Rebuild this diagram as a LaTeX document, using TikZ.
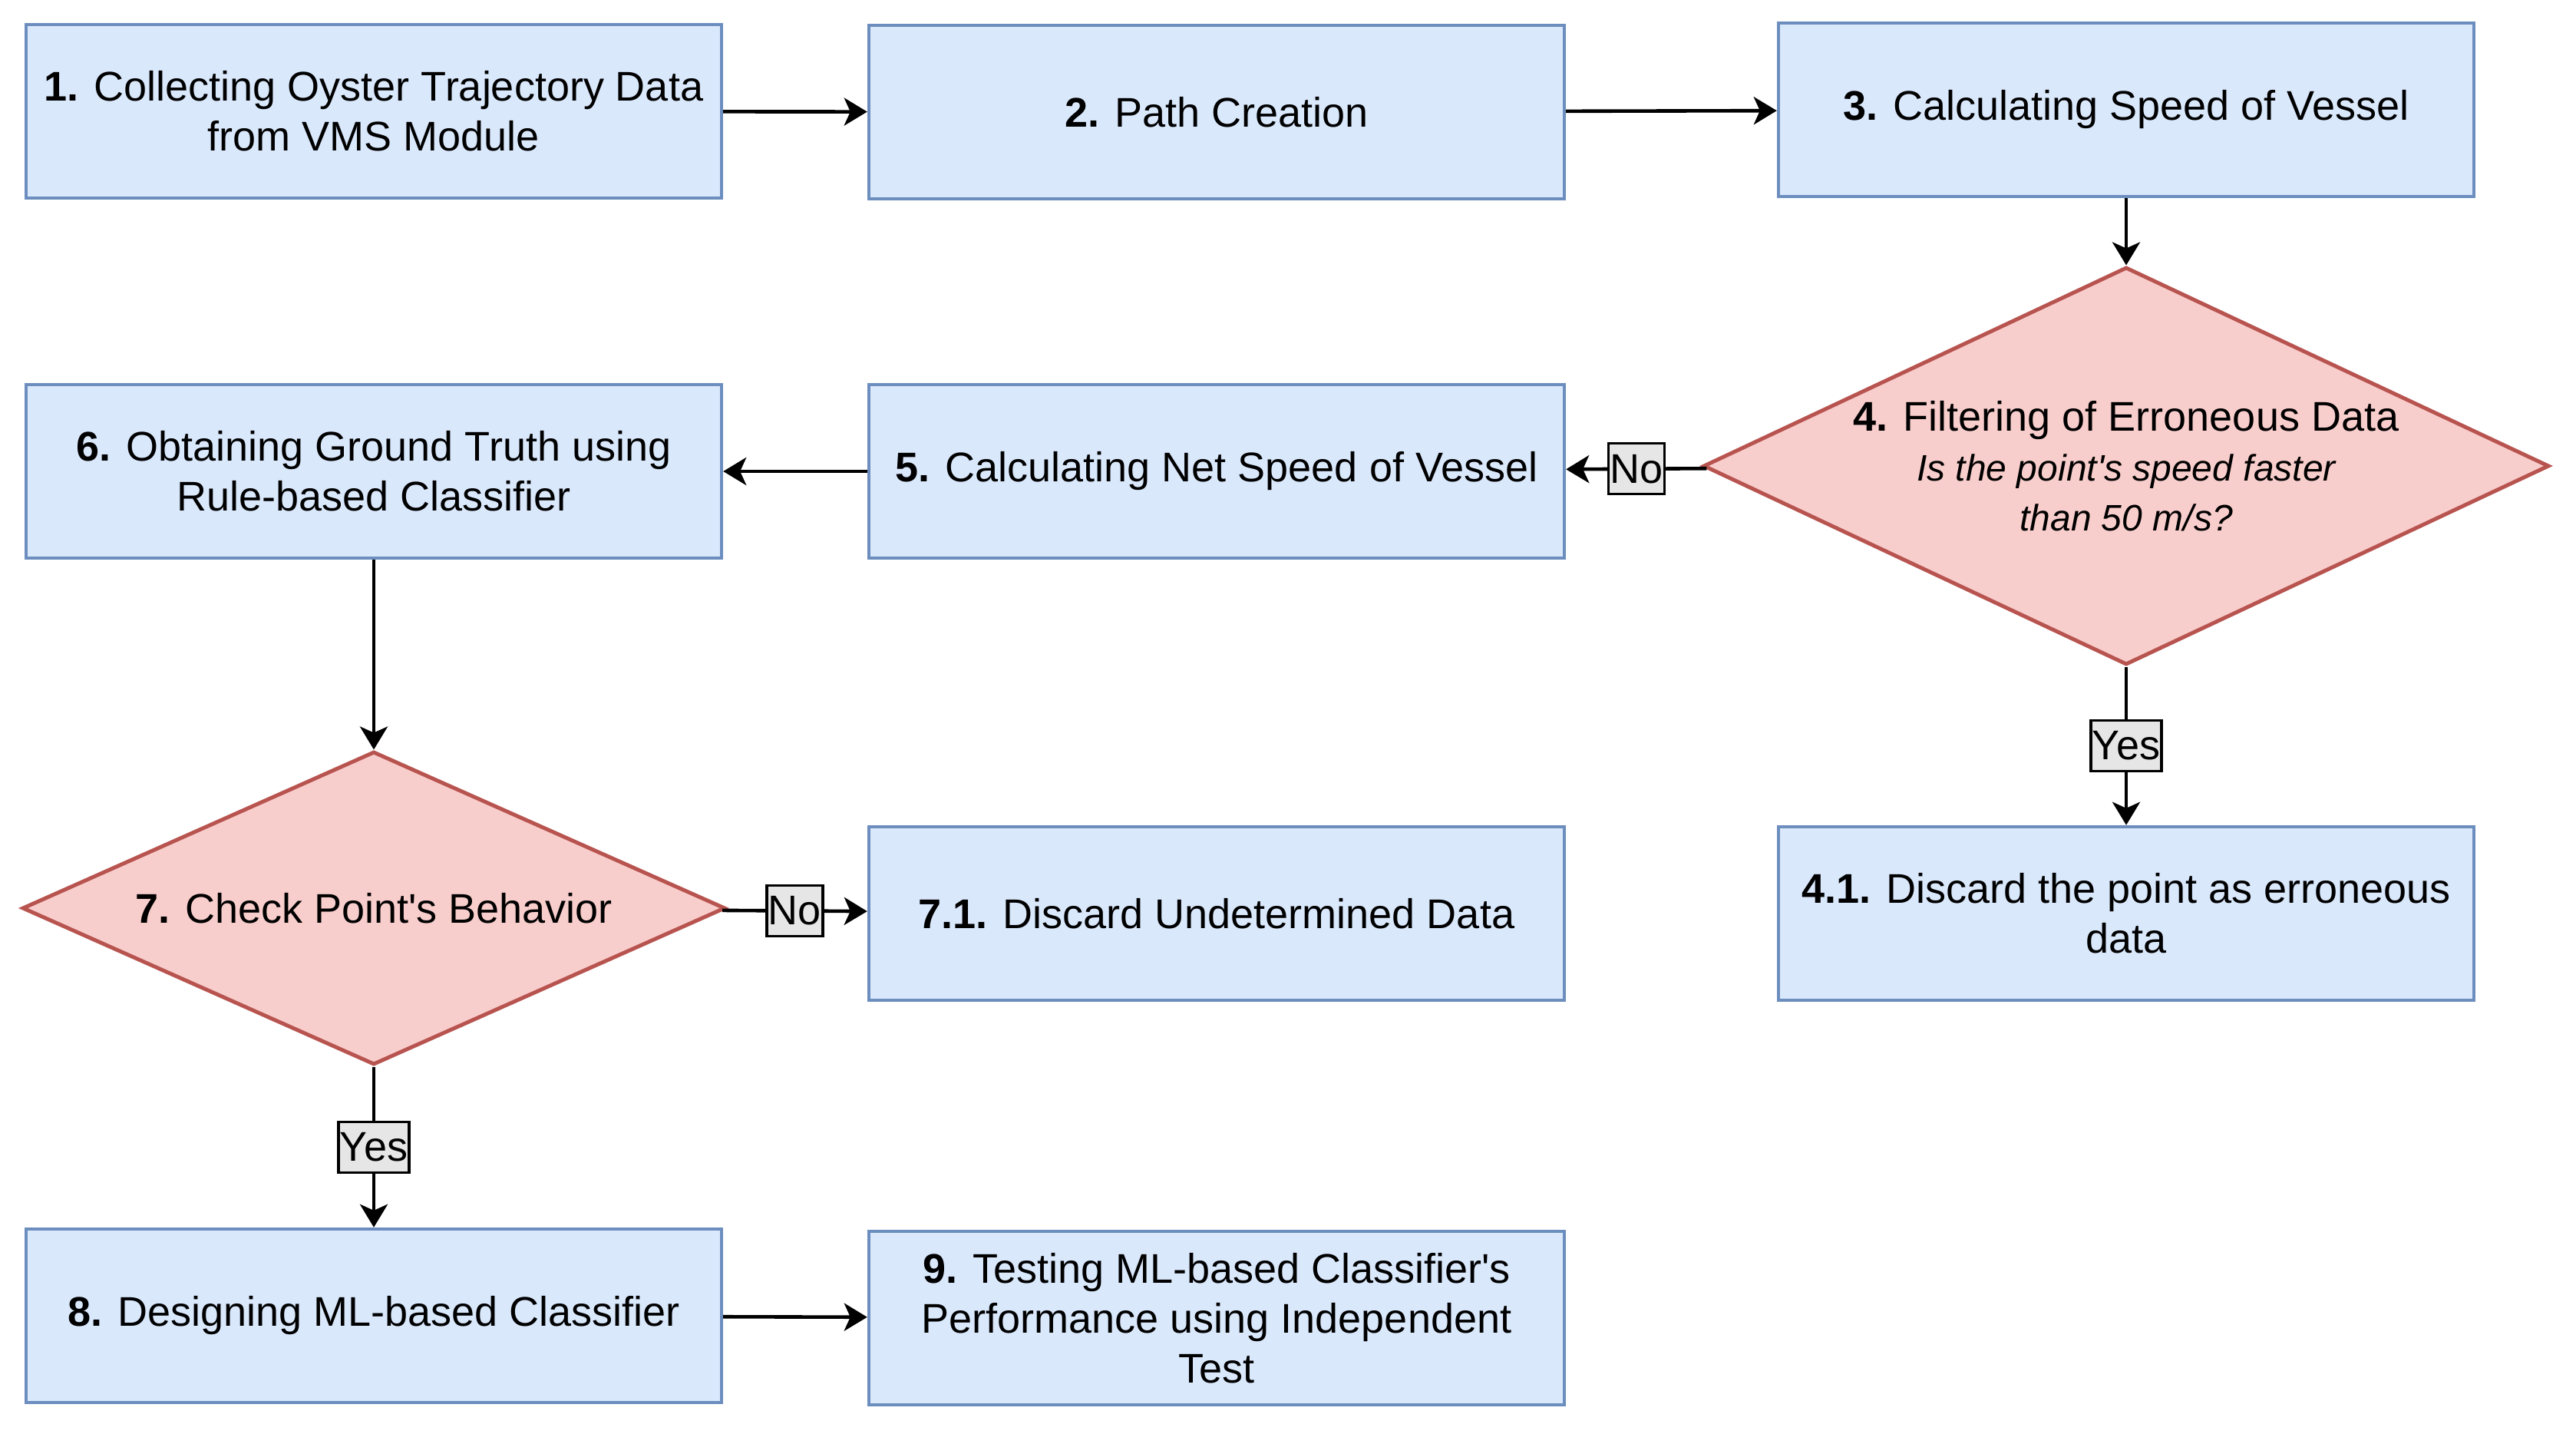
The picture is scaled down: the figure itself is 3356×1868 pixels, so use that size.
\documentclass[tikz,border=0pt]{standalone}
\usepackage{fontspec}
\setmainfont{Liberation Sans}
\usetikzlibrary{shapes.geometric,arrows.meta}
\definecolor{bfill}{HTML}{DAE8FC}
\definecolor{bdraw}{HTML}{6C8EBF}
\definecolor{rfill}{HTML}{F8CECC}
\definecolor{rdraw}{HTML}{B85450}
\definecolor{lfill}{HTML}{E6E6E6}
\begin{document}
\begin{tikzpicture}[x=0.5pt,y=-0.5pt,
  every node/.style={font=\fontsize{27}{32.4}\selectfont, align=center},
  procbox/.style={rectangle, draw=bdraw, fill=bfill, line width=2.2pt, minimum width=453pt, minimum height=113pt, inner sep=0pt},
  decision/.style={diamond, draw=rdraw, fill=rfill, line width=2.5pt, inner sep=0pt},
  flow/.style={-{Stealth[length=15pt,width=18pt,inset=4pt]}, line width=2.3pt},
  lbl/.style={draw=black, fill=lfill, line width=1.6pt, inner xsep=1pt, inner ysep=0pt, minimum height=33pt}
]
\useasboundingbox (0,0) rectangle (3356,1868);

\node[procbox] (b1) at (487,145) {\textbf{1.} Collecting Oyster Trajectory Data\\from VMS Module};
\node[procbox] (b2) at (1585,146) {\textbf{2.} Path Creation};
\node[procbox] (b3) at (2770,143) {\textbf{3.} Calculating Speed of Vessel};
\node[decision, minimum width=551pt, minimum height=259pt, aspect=2.13] (d4) at (2770,607)
  {\textbf{4.} Filtering of Erroneous Data\\
   {\fontsize{24}{32}\selectfont\itshape Is the point\textquotesingle s speed faster}\\
   {\fontsize{24}{32}\selectfont\itshape than 50 m/s?}};
\node[procbox] (b5) at (1585,614) {\textbf{5.} Calculating Net Speed of Vessel};
\node[procbox] (b6) at (487,614) {\textbf{6.} Obtaining Ground Truth using\\Rule-based Classifier};
\node[decision, minimum width=458pt, minimum height=204pt, aspect=2.24] (d7) at (487,1183)
  {\textbf{7.} Check Point\textquotesingle s Behavior};
\node[procbox] (b71) at (1585,1190) {\textbf{7.1.} Discard Undetermined Data};
\node[procbox] (b41) at (2770,1190) {\textbf{4.1.} Discard the point as erroneous\\data};
\node[procbox] (b8) at (487,1714) {\textbf{8.} Designing ML-based Classifier};
\node[procbox] (b9) at (1585,1717) {\textbf{9.} Testing ML-based Classifier\textquotesingle s\\Performance using Independent\\Test};

\draw[flow] (b1) -- (b2);
\draw[flow] (b2) -- (b3);
\draw[flow] (b3) -- (d4);
\draw[flow] (d4) -- node[lbl]{No} (b5);
\draw[flow] (d4) -- node[lbl]{Yes} (b41);
\draw[flow] (b5) -- (b6);
\draw[flow] (b6) -- (d7);
\draw[flow] (d7) -- node[lbl]{No} (b71);
\draw[flow] (d7) -- node[lbl]{Yes} (b8);
\draw[flow] (b8) -- (b9);
\end{tikzpicture}
\end{document}
